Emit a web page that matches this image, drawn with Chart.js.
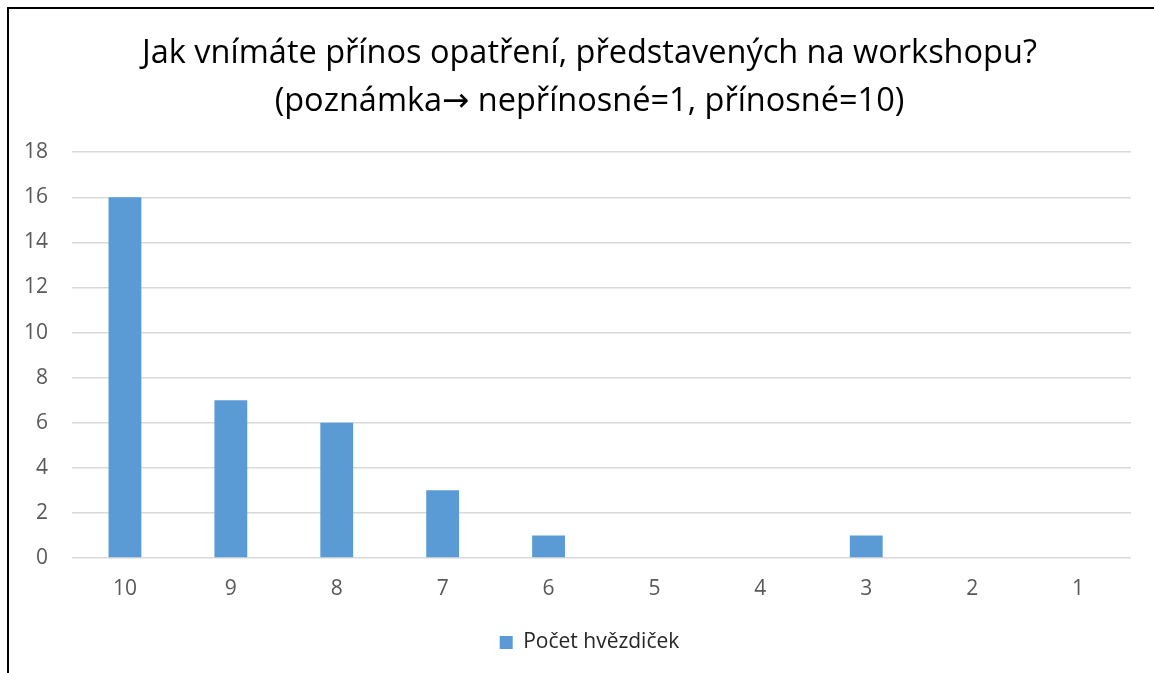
<!DOCTYPE html>
<html>
<head>
<meta charset="utf-8">
<script src="https://cdn.jsdelivr.net/npm/chart.js@4"></script>
<style>
  html, body { margin: 0; padding: 0; background: #fff; }
  #wrap { position: relative; width: 1154px; height: 673px; overflow: hidden; }
  #frame { position: absolute; left: 7px; top: 7px; width: 1200px; height: 700px;
           border-left: 2px solid #000; border-top: 2px solid #000; }
  canvas { position: absolute; left: 0; top: 0; }
</style>
</head>
<body>
<div id="wrap">
  <div id="frame"></div>
  <canvas id="chart" width="1154" height="673"></canvas>
</div>
<script>
const categories = ["10", "9", "8", "7", "6", "5", "4", "3", "2", "1"];
const counts = [16, 7, 6, 3, 1, 0, 0, 1, 0, 0];
const yTicks = [0, 2, 4, 6, 8, 10, 12, 14, 16, 18];
const titleLines = [
  "Jak vnímáte přínos opatření, představených na workshopu?",
  "(poznámka→ nepřínosné=1, přínosné=10)"
];
const seriesName = "Počet hvězdiček";

const FONT = "'Open Sans', 'Noto Sans', sans-serif";
// Open Sans has no arrow glyph; DejaVu supplies a full-size one
const TITLE_FONT = "'Open Sans', 'DejaVu Sans', sans-serif";

new Chart(document.getElementById("chart"), {
  type: "bar",
  data: {
    labels: categories,
    datasets: [{
      label: seriesName,
      data: counts,
      backgroundColor: "#5B9BD5",
      borderWidth: 0,
      categoryPercentage: 1,
      barPercentage: 0.31
    }]
  },
  options: {
    responsive: false,
    animation: false,
    // left padding shifts title/legend centre to match the original
    layout: { padding: { left: 48, right: 23, top: 0, bottom: 10 } },
    plugins: {
      title: {
        display: true,
        text: titleLines,
        color: "#000",
        font: { family: TITLE_FONT, size: 32.5, weight: "normal", lineHeight: 1.48 },
        padding: { top: 30, bottom: 26 }
      },
      legend: {
        position: "bottom",
        labels: {
          color: "#262626",
          font: { family: FONT, size: 21 },
          boxWidth: 13,
          boxHeight: 13,
          padding: 10
        }
      },
      tooltip: { enabled: false }
    },
    scales: {
      x: {
        grid: { display: false, drawTicks: false },
        border: { display: false },
        ticks: { color: "#595959", font: { family: FONT, size: 21 }, padding: 18 },
        afterFit: s => { s.height = 64; }
      },
      y: {
        min: 0,
        max: 18,
        afterBuildTicks: s => { s.ticks = yTicks.map(v => ({ value: v })); },
        grid: { color: "#D9D9D9", lineWidth: 1.5, drawTicks: false },
        border: { display: false },
        // mirrored so the labels are not clipped to the narrow axis box;
        // negative padding puts them back left of the plot, right edge ~x=48
        ticks: {
          color: "#595959", font: { family: FONT, size: 21 },
          mirror: true, crossAlign: "far", padding: -48
        },
        afterFit: s => { s.width = 24; }
      }
    }
  }
});
</script>
</body>
</html>
